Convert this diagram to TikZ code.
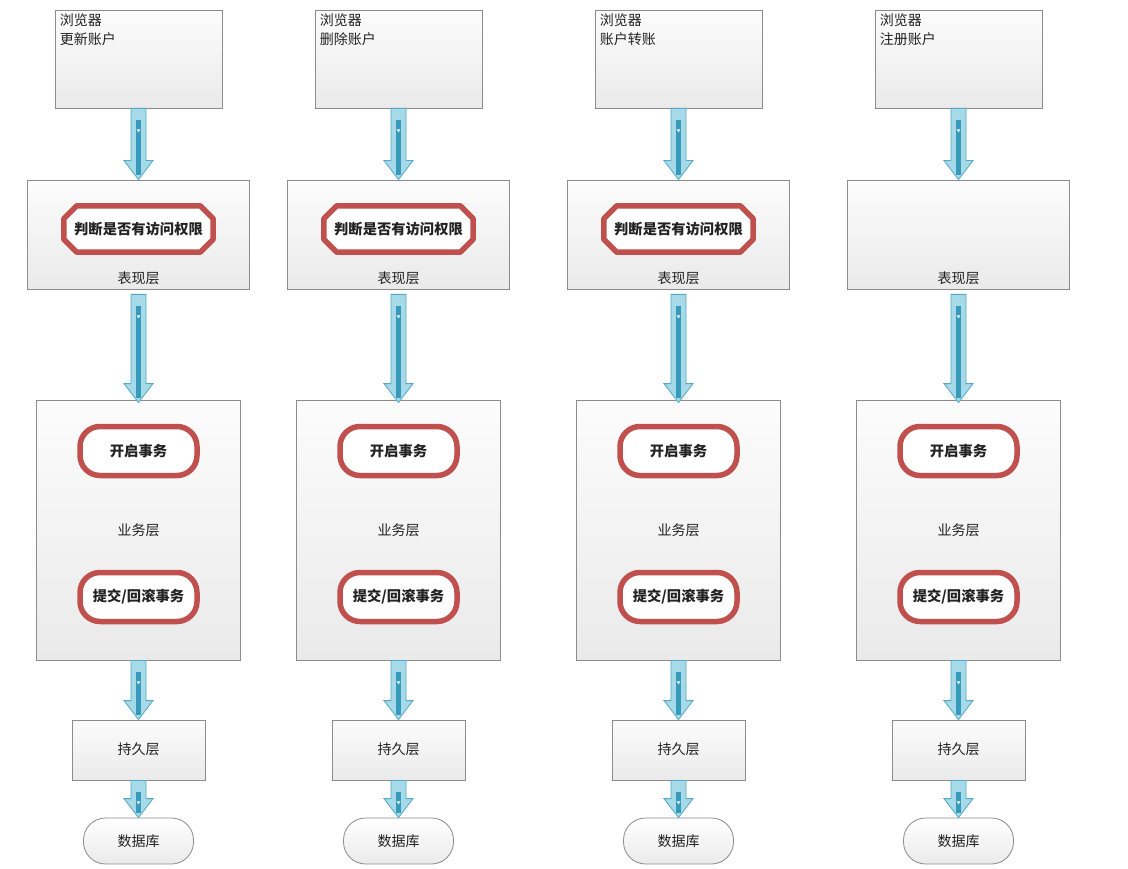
\documentclass[tikz,border=0pt]{standalone}
\usepackage{fontspec}
\setmainfont{Noto Sans CJK SC}
\usetikzlibrary{calc}
\definecolor{boxline}{RGB}{140,140,140}
\definecolor{boxtop}{RGB}{252,252,252}
\definecolor{boxbot}{RGB}{234,234,234}
\definecolor{redc}{RGB}{192,80,77}
\definecolor{arrfill}{RGB}{166,218,232}
\definecolor{arrline}{RGB}{86,168,196}
\definecolor{arrbar}{RGB}{56,154,186}
\definecolor{txt}{RGB}{34,34,34}
\tikzset{
  layer/.style={draw=boxline, line width=0.8pt, top color=boxtop, bottom color=boxbot, inner sep=0pt},
  lbl/.style={text=txt, inner sep=0pt, font=\fontsize{14}{17}\selectfont},
  redlbl/.style={text=txt, inner sep=0pt, font=\fontsize{14.3}{17}\selectfont\bfseries},
  redline/.style={draw=redc, line width=5.5pt, fill=white, line join=round},
  dbstyle/.style={draw=boxline, line width=0.8pt, top color=white, bottom color=boxbot, rounded corners=22pt, inner sep=0pt},
}
\newcommand\flowarrow[2]{%
  \draw[draw=arrline, fill=arrfill, line width=0.8pt] let \p1=(#1), \p2=(#2) in
    (\x1-7.5pt,\y1) -- (\x1+7.5pt,\y1) -- (\x1+7.5pt,\y2+19pt) -- (\x1+14.5pt,\y2+19pt) --
    (\x1,\y2) -- (\x1-14.5pt,\y2+19pt) -- (\x1-7.5pt,\y2+19pt) -- cycle;
  \fill[arrbar] let \p1=(#1), \p2=(#2) in
    (\x1-2.3pt,\y1-12pt) rectangle (\x1+2.3pt,\y2+5pt);
  \fill[white] let \p1=(#1) in
    (\x1-1.8pt,\y1-21pt) -- (\x1+1.8pt,\y1-21pt) -- (\x1,\y1-24pt) -- cycle;
}
\begin{document}
\begin{tikzpicture}[x=1pt,y=-1pt]
\useasboundingbox (0,0) rectangle (1128,869);
\foreach \i/\cx/\name/\auth in {1/138.5/更新账户/1, 2/398.5/删除账户/1, 3/678.5/账户转账/1, 4/958.5/注册账户/0} {
  % browser
  \node[layer, minimum width=167pt, minimum height=98pt] (b\i) at (\cx,59) {};
  \node[anchor=north west, align=left, text=txt, inner sep=0pt, font=\fontsize{14}{19}\selectfont]
    (bt\i) at ([xshift=5pt,yshift=-3.5pt]b\i.north west) {浏览器\\\name};
  % presentation
  \node[layer, minimum width=222pt, minimum height=109pt] (p\i) at (\cx,234.5) {};
  \node[lbl] (pl\i) at (\cx,278) {表现层};
  \ifnum\auth=1
    \node[minimum width=149pt, minimum height=46pt, inner sep=0pt] (au\i) at (\cx,229) {};
    \draw[redline] ([xshift=13pt]au\i.north west) -- ([xshift=-13pt]au\i.north east)
      -- ([yshift=-13pt]au\i.north east) -- ([yshift=13pt]au\i.south east)
      -- ([xshift=-13pt]au\i.south east) -- ([xshift=13pt]au\i.south west)
      -- ([yshift=13pt]au\i.south west) -- ([yshift=-13pt]au\i.north west) -- cycle;
    \node[redlbl] (aut\i) at (au\i) {判断是否有访问权限};
  \fi
  % business
  \node[layer, minimum width=204pt, minimum height=260pt] (s\i) at (\cx,530) {};
  \node[lbl] (sl\i) at (\cx,530) {业务层};
  \node[redline, rounded corners=20pt, minimum width=117pt, minimum height=49pt, inner sep=0pt, redlbl] (st\i) at (\cx,451) {开启事务};
  \node[redline, rounded corners=20pt, minimum width=117pt, minimum height=49pt, inner sep=0pt, redlbl] (sc\i) at (\cx,597) {提交/回滚事务};
  % persistence
  \node[layer, minimum width=133pt, minimum height=60pt] (d\i) at (\cx,750) {};
  \node[lbl] (dl\i) at (\cx,749) {持久层};
  % database
  \node[dbstyle, minimum width=110pt, minimum height=46pt] (db\i) at (\cx,841) {};
  \node[lbl] (dbl\i) at (\cx,841) {数据库};
  % arrows
  \flowarrow{b\i.south}{p\i.north}
  \flowarrow{[yshift=-5pt]p\i.south}{[yshift=-3pt]s\i.north}
  \flowarrow{s\i.south}{d\i.north}
  \flowarrow{d\i.south}{db\i.north}
}
\end{tikzpicture}
\end{document}
